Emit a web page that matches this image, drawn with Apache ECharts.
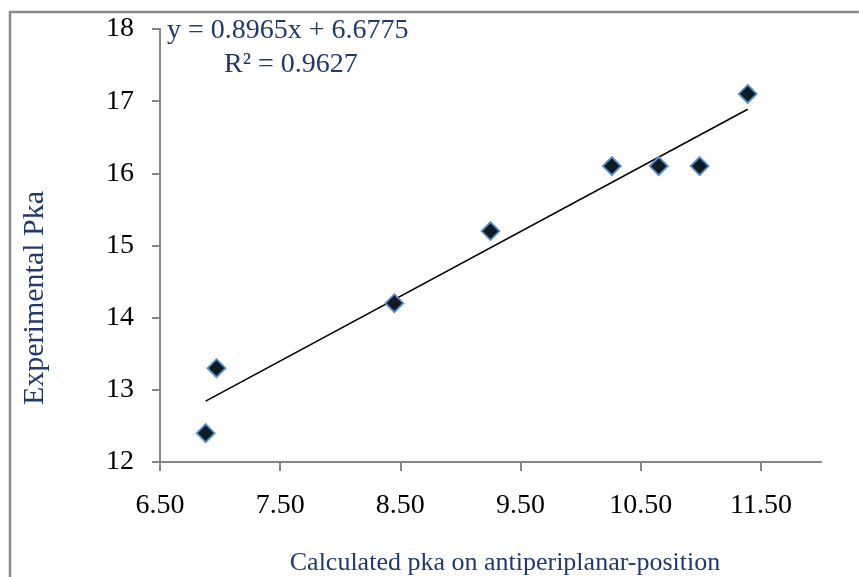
<!DOCTYPE html>
<html>
<head>
<meta charset="utf-8">
<script src="https://cdn.jsdelivr.net/npm/echarts@6/dist/echarts.min.js"></script>
<style>
html,body{margin:0;padding:0;background:#fff;}
#main{width:859px;height:577px;}
</style>
</head>
<body>
<div id="main"></div>
<script>
// calculated pka (x) vs experimental pka (y)
var calcPka = [6.88, 6.97, 8.45, 9.25, 10.26, 10.65, 10.99, 11.39];
var expPka = [12.4, 13.3, 14.2, 15.2, 16.1, 16.1, 16.1, 17.1];
var xTicks = [6.5, 7.5, 8.5, 9.5, 10.5, 11.5];
var yTicks = [12, 13, 14, 15, 16, 17, 18];

// least squares trend line (as excel does)
function fitLine(xs, ys){
  var n = xs.length, mx = 0, my = 0;
  for (var i = 0; i < n; i++){ mx += xs[i]; my += ys[i]; }
  mx /= n; my /= n;
  var sxy = 0, sxx = 0;
  for (var j = 0; j < n; j++){
    sxy += (xs[j]-mx)*(ys[j]-my);
    sxx += (xs[j]-mx)*(xs[j]-mx);
  }
  var b = sxy/sxx;
  return {slope:b, icpt:my-b*mx};
}
var fit = fitLine(calcPka, expPka);
var xLo = Math.min.apply(null, calcPka), xHi = Math.max.apply(null, calcPka);
var trend = [[xLo, fit.slope*xLo+fit.icpt], [xHi, fit.slope*xHi+fit.icpt]];

var pts = [];
for (var i = 0; i < calcPka.length; i++) pts.push([calcPka[i], expPka[i]]);

var serif = '"Liberation Serif", "DejaVu Serif", serif';
var blue = '#1F3A70';
var axisGray = '#868686';

var myChart = echarts.init(document.getElementById('main'));
var option = {
  animation:false,
  backgroundColor:'#fff',
  grid:{left:160, right:38, top:29, bottom:115},
  xAxis:{
    type:'value', min:6.5, max:12, interval:1,
    axisLine:{show:true, onZero:false, lineStyle:{color:axisGray, width:2}},
    axisTick:{show:true, length:9, customValues:xTicks, lineStyle:{color:axisGray, width:2}},
    axisLabel:{
      customValues:xTicks, margin:30,
      color:'#000', fontFamily:serif, fontSize:28,
      formatter:function(v){ return v.toFixed(2); }
    },
    splitLine:{show:false}
  },
  yAxis:{
    type:'value', min:12, max:18, interval:1,
    axisLine:{show:true, onZero:false, lineStyle:{color:axisGray, width:2}},
    axisTick:{show:true, length:8, customValues:yTicks, lineStyle:{color:axisGray, width:2}},
    axisLabel:{customValues:yTicks, margin:26, color:'#000', fontFamily:serif, fontSize:28},
    splitLine:{show:false}
  },
  graphic:[
    {type:'rect', silent:true, z:-1,
      shape:{x:10, y:12, width:900, height:620},
      style:{fill:null, stroke:'#8a8a8a', lineWidth:2.5}},
    {type:'text', left:167, top:17,
      style:{text:'y = 0.8965x + 6.6775', fill:blue, font:'28px ' + serif}},
    {type:'text', left:224, top:51,
      style:{text:'R² = 0.9627', fill:blue, font:'28px ' + serif}},
    {type:'text', x:505, y:563,
      style:{text:'Calculated pka on antiperiplanar-position', fill:blue,
        font:'26px ' + serif, textAlign:'center', textVerticalAlign:'middle'}},
    {type:'text', x:35, y:298, rotation:Math.PI/2,
      style:{text:'Experimental Pka', fill:blue,
        font:'30px ' + serif, textAlign:'center', textVerticalAlign:'middle'}}
  ],
  series:[
    {
      type:'line', data:trend, showSymbol:false, silent:true, z:2,
      lineStyle:{color:'#000', width:1.6}
    },
    {
      type:'scatter', data:pts, symbol:'diamond', symbolSize:18, z:3,
      itemStyle:{color:'#0E1B20', borderColor:'#5B8DC9', borderWidth:1.8, opacity:1}
    }
  ]
};
myChart.setOption(option);
</script>
</body>
</html>
